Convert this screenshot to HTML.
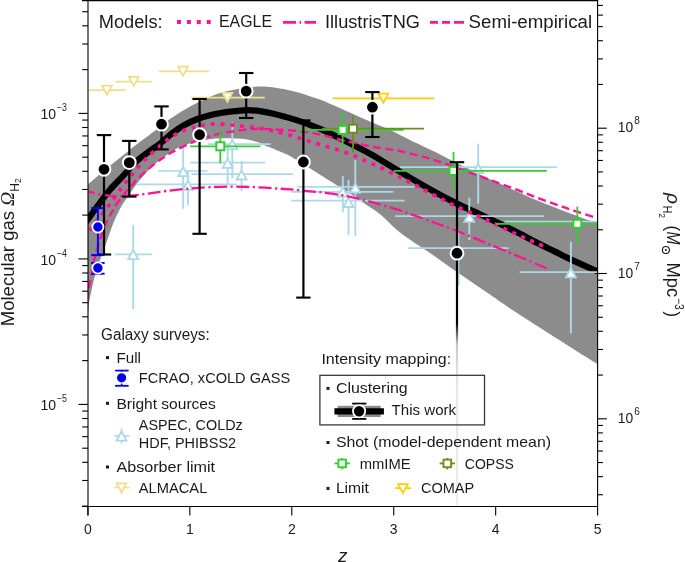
<!DOCTYPE html>
<html><head><meta charset="utf-8"><style>
html,body{margin:0;padding:0;background:#fff;}
body{width:685px;height:562px;overflow:hidden;}
svg{display:block;will-change:transform;}
text{font-family:"Liberation Sans",sans-serif;}
</style></head><body>
<svg width="685" height="562" viewBox="0 0 685 562">
<defs><linearGradient id="fade" x1="0" y1="0" x2="0" y2="1"><stop offset="0" stop-color="#000" stop-opacity="1"/><stop offset="0.275" stop-color="#000" stop-opacity="1"/><stop offset="0.36" stop-color="#000" stop-opacity="0.22"/><stop offset="0.5" stop-color="#000" stop-opacity="0.1"/><stop offset="1" stop-color="#000" stop-opacity="0.07"/></linearGradient><clipPath id="plot"><rect x="88" y="0" width="509.6" height="506.5"/></clipPath></defs>
<g clip-path="url(#plot)">
<path d="M80,190.8 C81.33,189.72 84.33,187.35 88,184.3 C91.67,181.25 97.13,176.55 102,172.5 C106.87,168.45 112.9,163.52 117.2,160 C121.5,156.48 124,154.43 127.8,151.4 C131.6,148.37 136.3,144.62 140,141.8 C143.7,138.98 147,136.7 150,134.5 C153,132.3 155.08,130.88 158,128.6 C160.92,126.32 163.97,123.4 167.5,120.8 C171.03,118.2 174.82,115.7 179.2,113 C183.58,110.3 188.93,107.2 193.8,104.6 C198.67,102 203.53,99.45 208.4,97.4 C213.27,95.35 218.13,93.7 223,92.3 C227.87,90.9 233.1,89.85 237.6,89 C242.1,88.15 245.93,87.63 250,87.2 C254.07,86.77 258.27,86.4 262,86.4 C265.73,86.4 268.6,86.72 272.4,87.2 C276.2,87.68 280.65,88.45 284.8,89.3 C288.95,90.15 293.13,91.15 297.3,92.3 C301.47,93.45 305.6,94.82 309.8,96.2 C314,97.58 316.23,98.03 322.5,100.6 C328.77,103.17 339.1,107.93 347.4,111.6 C355.7,115.27 365,119.43 372.3,122.6 C379.6,125.77 384.93,127.7 391.2,130.6 C397.47,133.5 402.63,136.47 409.9,140 C417.17,143.53 427.73,148.33 434.8,151.8 C441.87,155.27 445.82,157.53 452.3,160.8 C458.78,164.07 466.08,167.73 473.7,171.4 C481.32,175.07 490.73,179.43 498,182.8 C505.27,186.17 511.17,188.8 517.3,191.6 C523.43,194.4 527.68,196.62 534.8,199.6 C541.92,202.58 550.82,206 560,209.5 C569.18,213 583.63,218.6 589.9,220.6 C596.17,222.6 594.92,221.2 597.6,221.5 C600.28,221.8 604.6,222.25 606,222.4 L606,369.6 C604.6,368.72 611.93,373.4 597.6,364.3 C583.27,355.2 537.93,326.62 520,315 C502.07,303.38 500.27,301.6 490,294.6 C479.73,287.6 468.4,279.93 458.4,273 C448.4,266.07 439.73,259.77 430,253 C420.27,246.23 408.33,238.87 400,232.4 C391.67,225.93 386.43,219.37 380,214.2 C373.57,209.03 366.47,204.88 361.4,201.4 C356.33,197.92 354.83,196.7 349.6,193.3 C344.37,189.9 337.73,185.9 330,181 C322.27,176.1 308.95,167.53 303.2,163.9 C297.45,160.27 297.72,160.53 295.5,159.2 C293.28,157.87 292.08,157 289.9,155.9 C287.72,154.8 285.32,153.88 282.4,152.6 C279.48,151.32 275.3,149.4 272.4,148.2 C269.5,147 267.08,146.27 265,145.4 C262.92,144.53 262.82,144 259.9,143 C256.98,142 251.68,140.17 247.5,139.4 C243.32,138.63 239,138.6 234.8,138.4 C230.6,138.2 226.47,138.07 222.3,138.2 C218.13,138.33 213.95,138.7 209.8,139.2 C205.65,139.7 201.55,140.23 197.4,141.2 C193.25,142.17 189.05,143.4 184.9,145 C180.75,146.6 175.65,149.03 172.5,150.8 C169.35,152.57 169.22,153.13 166,155.6 C162.78,158.07 157.2,161.97 153.2,165.6 C149.2,169.23 145.2,173.77 142,177.4 C138.8,181.03 136.67,183.77 134,187.4 C131.33,191.03 128.17,195.93 126,199.2 C123.83,202.47 123.03,203.2 121,207 C118.97,210.8 116.25,216.05 113.8,222 C111.35,227.95 108.8,235.77 106.3,242.7 C103.8,249.63 100.4,259.05 98.8,263.6 C97.2,268.15 97.53,267.27 96.7,270 C95.87,272.73 94.7,276.45 93.8,280 C92.9,283.55 92.07,287.63 91.3,291.3 C90.53,294.97 89.75,298.05 89.2,302 C88.65,305.95 88.4,310 88,315 C87.6,320 87,329.17 86.8,332 Z" fill="#8c8c8c"/>
<path d="M80,230.5 C81.33,228.62 85.68,222.45 88,219.2 C90.32,215.95 91.6,214.15 93.9,211 C96.2,207.85 99.12,203.85 101.8,200.3 C104.48,196.75 106.32,193.92 110,189.7 C113.68,185.48 119.73,179.53 123.9,175 C128.07,170.47 130.65,166.53 135,162.5 C139.35,158.47 145.83,153.95 150,150.8 C154.17,147.65 156.25,146.57 160,143.6 C163.75,140.63 168.35,136.13 172.5,133 C176.65,129.87 180.75,127.13 184.9,124.8 C189.05,122.47 193.25,120.6 197.4,119 C201.55,117.4 205.65,116.23 209.8,115.2 C213.95,114.17 218.1,113.47 222.3,112.8 C226.5,112.13 230.8,111.65 235,111.2 C239.2,110.75 243.35,110.12 247.5,110.1 C251.65,110.08 255.75,110.55 259.9,111.1 C264.05,111.65 268.25,112.47 272.4,113.4 C276.55,114.33 280.65,115.53 284.8,116.7 C288.95,117.87 293.1,119.03 297.3,120.4 C301.5,121.77 305.8,123.32 310,124.9 C314.2,126.48 316.27,127.05 322.5,129.9 C328.73,132.75 339.1,137.82 347.4,142 C355.7,146.18 366.03,151.55 372.3,155 C378.57,158.45 378.73,158.93 385,162.7 C391.27,166.47 401.6,172.72 409.9,177.6 C418.2,182.48 426.95,187.67 434.8,192 C442.65,196.33 449.48,199.9 457,203.6 C464.52,207.3 471.93,210.45 479.9,214.2 C487.87,217.95 498.12,222.83 504.8,226.1 C511.48,229.37 514.63,231.02 520,233.8 C525.37,236.58 531.17,239.83 537,242.8 C542.83,245.77 548.67,248.5 555,251.6 C561.33,254.7 569.17,258.67 575,261.4 C580.83,264.13 586.23,266.32 590,268 C593.77,269.68 594.93,270.33 597.6,271.5 C600.27,272.67 604.6,274.42 606,275" fill="none" stroke="#000" stroke-width="6.2" stroke-linecap="butt"/>
<line x1="114.8" y1="254.3" x2="152.3" y2="254.3" stroke="#add8e6" stroke-width="1.7"/>
<line x1="133.2" y1="225.2" x2="133.2" y2="309" stroke="#add8e6" stroke-width="1.9"/>
<line x1="158.2" y1="171" x2="207.7" y2="171" stroke="#add8e6" stroke-width="1.7"/>
<line x1="183.2" y1="148" x2="183.2" y2="208.8" stroke="#add8e6" stroke-width="1.9"/>
<line x1="136" y1="184.4" x2="237" y2="184.4" stroke="#add8e6" stroke-width="1.7"/>
<line x1="187.9" y1="170.2" x2="187.9" y2="205.3" stroke="#add8e6" stroke-width="1.9"/>
<line x1="190.2" y1="162.7" x2="265" y2="162.7" stroke="#add8e6" stroke-width="1.7"/>
<line x1="227.6" y1="145.7" x2="227.6" y2="184.2" stroke="#add8e6" stroke-width="1.9"/>
<line x1="207.7" y1="144.2" x2="270.8" y2="144.2" stroke="#add8e6" stroke-width="1.7"/>
<line x1="232.3" y1="122.3" x2="232.3" y2="178.4" stroke="#add8e6" stroke-width="1.9"/>
<line x1="191.4" y1="174.2" x2="293" y2="174.2" stroke="#add8e6" stroke-width="1.7"/>
<line x1="241.6" y1="160.9" x2="241.6" y2="191.2" stroke="#add8e6" stroke-width="1.9"/>
<line x1="291.2" y1="191.9" x2="393.4" y2="191.9" stroke="#add8e6" stroke-width="1.7"/>
<line x1="342.8" y1="176.2" x2="342.8" y2="212.3" stroke="#add8e6" stroke-width="1.9"/>
<line x1="291.2" y1="200.6" x2="404.6" y2="200.6" stroke="#add8e6" stroke-width="1.7"/>
<line x1="348.5" y1="180" x2="348.5" y2="234.8" stroke="#add8e6" stroke-width="1.9"/>
<line x1="297.4" y1="186.9" x2="414.6" y2="186.9" stroke="#add8e6" stroke-width="1.7"/>
<line x1="355.3" y1="160" x2="355.3" y2="236" stroke="#add8e6" stroke-width="1.9"/>
<line x1="400" y1="167.2" x2="557" y2="167.2" stroke="#add8e6" stroke-width="1.7"/>
<line x1="478.2" y1="143.8" x2="478.2" y2="203.6" stroke="#add8e6" stroke-width="1.9"/>
<line x1="395.1" y1="216.1" x2="543.9" y2="216.1" stroke="#add8e6" stroke-width="1.7"/>
<line x1="469.3" y1="197.8" x2="469.3" y2="240.1" stroke="#add8e6" stroke-width="1.9"/>
<line x1="408.2" y1="248.1" x2="508.6" y2="248.1" stroke="#add8e6" stroke-width="1.7"/>
<line x1="458.4" y1="230" x2="458.4" y2="285.5" stroke="#add8e6" stroke-width="1.9"/>
<line x1="519.7" y1="272.2" x2="597.6" y2="272.2" stroke="#add8e6" stroke-width="1.7"/>
<line x1="570.9" y1="241.7" x2="570.9" y2="333.6" stroke="#add8e6" stroke-width="1.9"/>
<line x1="504.3" y1="221.5" x2="597.6" y2="221.5" stroke="#add8e6" stroke-width="1.7"/>
<path d="M133.2,249.9 L128.2,259.1 L138.2,259.1 Z" fill="#fff" stroke="#add8e6" stroke-width="1.8" stroke-linejoin="miter"/>
<path d="M183.2,167 L178.2,176.2 L188.2,176.2 Z" fill="#fff" stroke="#add8e6" stroke-width="1.8" stroke-linejoin="miter"/>
<path d="M187.9,180.6 L182.9,189.8 L192.9,189.8 Z" fill="#fff" stroke="#add8e6" stroke-width="1.8" stroke-linejoin="miter"/>
<path d="M227.6,158.6 L222.6,167.8 L232.6,167.8 Z" fill="#fff" stroke="#add8e6" stroke-width="1.8" stroke-linejoin="miter"/>
<path d="M232.3,139.9 L227.3,149.1 L237.3,149.1 Z" fill="#fff" stroke="#add8e6" stroke-width="1.8" stroke-linejoin="miter"/>
<path d="M241.6,170.3 L236.6,179.5 L246.6,179.5 Z" fill="#fff" stroke="#add8e6" stroke-width="1.8" stroke-linejoin="miter"/>
<path d="M342.8,187.3 L337.8,196.5 L347.8,196.5 Z" fill="#fff" stroke="#add8e6" stroke-width="1.8" stroke-linejoin="miter"/>
<path d="M348.5,197.8 L343.5,207 L353.5,207 Z" fill="#fff" stroke="#add8e6" stroke-width="1.8" stroke-linejoin="miter"/>
<path d="M355.3,183.3 L350.3,192.5 L360.3,192.5 Z" fill="#fff" stroke="#add8e6" stroke-width="1.8" stroke-linejoin="miter"/>
<path d="M478.2,163.8 L473.2,173 L483.2,173 Z" fill="#fff" stroke="#add8e6" stroke-width="1.8" stroke-linejoin="miter"/>
<path d="M469.3,212.6 L464.3,221.8 L474.3,221.8 Z" fill="#fff" stroke="#add8e6" stroke-width="1.8" stroke-linejoin="miter"/>
<path d="M570.9,268.2 L565.9,277.4 L575.9,277.4 Z" fill="#fff" stroke="#add8e6" stroke-width="1.8" stroke-linejoin="miter"/>
<path d="M84,238.5 C84.75,237.42 86.68,234.5 88.5,232 C90.32,229.5 92.8,226.28 94.9,223.5 C97,220.72 99.05,217.97 101.1,215.3 C103.15,212.63 105.2,210.1 107.2,207.5 C109.2,204.9 111.17,202.35 113.1,199.7 C115.03,197.05 116.92,194.25 118.8,191.6 C120.68,188.95 122.43,186.35 124.4,183.8 C126.37,181.25 128.53,178.82 130.6,176.3 C132.67,173.78 134.65,171.18 136.8,168.7 C138.95,166.22 141.25,163.75 143.5,161.4 C145.75,159.05 147.92,156.8 150.3,154.6 C152.68,152.4 155.37,150.37 157.8,148.2 C160.23,146.03 162.45,143.57 164.9,141.6 C167.35,139.63 169.78,138.08 172.5,136.4 C175.22,134.72 178.08,132.9 181.2,131.5 C184.32,130.1 188.08,128.95 191.2,128 C194.32,127.05 196.8,126.43 199.9,125.8 C203,125.17 206.48,124.5 209.8,124.2 C213.12,123.9 216.5,123.92 219.8,124 C223.1,124.08 226.4,124.4 229.6,124.7 C232.8,125 235.83,125.42 239,125.8 C242.17,126.18 245.32,126.6 248.6,127 C251.88,127.4 255.37,127.73 258.7,128.2 C262.03,128.67 265.48,129.18 268.6,129.8 C271.72,130.42 274.28,131.12 277.4,131.9 C280.52,132.68 284.18,133.62 287.3,134.5 C290.42,135.38 292.98,136.25 296.1,137.2 C299.22,138.15 302.85,139.23 306,140.2 C309.15,141.17 311.83,142.03 315,143 C318.17,143.97 321.88,145.07 325,146 C328.12,146.93 330.7,147.68 333.7,148.6 C336.7,149.52 339.88,150.45 343,151.5 C346.12,152.55 349.38,153.7 352.4,154.9 C355.42,156.1 358.1,157.37 361.1,158.7 C364.1,160.03 367.42,161.55 370.4,162.9 C373.38,164.25 376.15,165.43 379,166.8 C381.85,168.17 384.57,169.67 387.5,171.1 C390.43,172.53 393.72,173.95 396.6,175.4 C399.48,176.85 401.92,178.32 404.8,179.8 C407.68,181.28 410.97,182.77 413.9,184.3 C416.83,185.83 419.55,187.43 422.4,189 C425.25,190.57 428.07,192.15 431,193.7 C433.93,195.25 437.07,196.78 440,198.3 C442.93,199.82 445.68,201.38 448.6,202.8 C451.52,204.22 454.57,205.47 457.5,206.8 C460.43,208.13 463.18,209.43 466.2,210.8 C469.22,212.17 472.58,213.67 475.6,215 C478.62,216.33 481.4,217.47 484.3,218.8 C487.2,220.13 490.1,221.58 493,223 C495.9,224.42 498.78,225.87 501.7,227.3 C504.62,228.73 507.58,230.22 510.5,231.6 C513.42,232.98 516.2,234.27 519.2,235.6 C522.2,236.93 525.45,238.27 528.5,239.6 C531.55,240.93 534.67,242.33 537.5,243.6 C540.33,244.87 544.17,246.6 545.5,247.2" fill="none" stroke="#ff1493" stroke-width="3.8" stroke-dasharray="4,5.8"/>
<path d="M87,300 C87.25,298.33 87.8,293.9 88.5,290 C89.2,286.1 90.13,282.1 91.2,276.6 C92.27,271.1 93.52,262.85 94.9,257 C96.28,251.15 98.33,245.38 99.5,241.5 C100.67,237.62 100.83,236.7 101.9,233.7 C102.97,230.7 104.57,226.48 105.9,223.5 C107.23,220.52 108.62,218.22 109.9,215.8 C111.18,213.38 112.42,211.05 113.6,209 C114.78,206.95 114.93,206.37 117,203.5 C119.07,200.63 123.6,194.73 126,191.8 C128.4,188.87 129.55,188 131.4,185.9 C133.25,183.8 134.72,181.63 137.1,179.2 C139.48,176.77 142.62,174 145.7,171.3 C148.78,168.6 152.4,165.45 155.6,163 C158.8,160.55 162,158.5 164.9,156.6 C167.8,154.7 168.83,153.78 173,151.6 C177.17,149.42 184.23,145.9 189.9,143.5 C195.57,141.1 201.75,138.88 207,137.2 C212.25,135.52 216.87,134.4 221.4,133.4 C225.93,132.4 230.12,131.83 234.2,131.2 C238.28,130.57 242,130 245.9,129.6 C249.8,129.2 253.6,128.87 257.6,128.8 C261.6,128.73 265.77,129.03 269.9,129.2 C274.03,129.37 278.25,129.53 282.4,129.8 C286.55,130.07 290.65,130.4 294.8,130.8 C298.95,131.2 302.68,131.47 307.3,132.2 C311.92,132.93 316.85,133.88 322.5,135.2 C328.15,136.52 335.97,138.83 341.2,140.1 C346.43,141.37 349.65,141.9 353.9,142.8 C358.15,143.7 362.43,144.65 366.7,145.5 C370.97,146.35 375.42,147.22 379.5,147.9 C383.58,148.58 387.78,149.08 391.2,149.6 C394.62,150.12 395.87,150.1 400,151 C404.13,151.9 411.2,153.78 416,155 C420.8,156.22 424.7,157.1 428.8,158.3 C432.9,159.5 436.5,160.82 440.6,162.2 C444.7,163.58 449.97,165.37 453.4,166.6 C456.83,167.83 456.78,168 461.2,169.6 C465.62,171.2 473.67,173.95 479.9,176.2 C486.13,178.45 492.37,180.82 498.6,183.1 C504.83,185.38 511.27,187.62 517.3,189.9 C523.33,192.18 527.33,194.02 534.8,196.8 C542.27,199.58 555.58,204.3 562.1,206.6 C568.62,208.9 569.98,209.3 573.9,210.6 C577.82,211.9 582.22,213.28 585.6,214.4 C588.98,215.52 592.77,216.82 594.2,217.3" fill="none" stroke="#ff1493" stroke-width="2.4" stroke-dasharray="8,4.4"/>
<path d="M82,190.2 C83,190.37 85.67,190.63 88,191.2 C90.33,191.77 93.27,192.93 96,193.6 C98.73,194.27 100.73,194.77 104.4,195.2 C108.07,195.63 113.07,196.17 118,196.2 C122.93,196.23 128.67,195.87 134,195.4 C139.33,194.93 144.67,194.13 150,193.4 C155.33,192.67 159.88,191.77 166,191 C172.12,190.23 179.37,189.43 186.7,188.8 C194.03,188.17 202.22,187.57 210,187.2 C217.78,186.83 225.6,186.58 233.4,186.6 C241.2,186.62 249,186.95 256.8,187.3 C264.6,187.65 273,188.2 280.2,188.7 C287.4,189.2 292.92,189.65 300,190.3 C307.08,190.95 315.85,191.82 322.7,192.6 C329.55,193.38 336.08,194.2 341.1,195 C346.12,195.8 347.65,196.2 352.8,197.4 C357.95,198.6 365.23,200.38 372,202.2 C378.77,204.02 388.25,206.78 393.4,208.3 C398.55,209.82 396.93,209.23 402.9,211.3 C408.87,213.37 419.95,217.33 429.2,220.7 C438.45,224.07 448.67,227.68 458.4,231.5 C468.13,235.32 477.87,239.58 487.6,243.6 C497.33,247.62 506.98,251.5 516.8,255.6 C526.62,259.7 541.55,266.1 546.5,268.2" fill="none" stroke="#ff1493" stroke-width="2.3" stroke-dasharray="13,3.5,2.2,3.5"/>
</g>
<line x1="88.5" y1="90.2" x2="125.2" y2="90.2" stroke="#eee08a" stroke-width="1.8"/>
<path d="M107,94.7 L102.1,85.7 L111.9,85.7 Z" fill="#fff" stroke="#eee08a" stroke-width="1.8" stroke-linejoin="miter"/>
<line x1="115.4" y1="81.6" x2="151.9" y2="81.6" stroke="#eee08a" stroke-width="1.8"/>
<path d="M133.7,85.9 L128.8,76.9 L138.6,76.9 Z" fill="#fff" stroke="#eee08a" stroke-width="1.8" stroke-linejoin="miter"/>
<line x1="159" y1="71.4" x2="209" y2="71.4" stroke="#eee08a" stroke-width="1.8"/>
<path d="M183,75.7 L178.1,66.7 L187.9,66.7 Z" fill="#fff" stroke="#eee08a" stroke-width="1.8" stroke-linejoin="miter"/>
<line x1="190.7" y1="97.6" x2="264.8" y2="97.6" stroke="#eee08a" stroke-width="1.8"/>
<path d="M227.4,101.8 L222.5,92.8 L232.3,92.8 Z" fill="#fff" stroke="#eee08a" stroke-width="1.8" stroke-linejoin="miter"/>
<line x1="332.4" y1="98.3" x2="434.3" y2="98.3" stroke="#ffd000" stroke-width="1.8"/>
<path d="M383.4,102.7 L378.5,93.7 L388.3,93.7 Z" fill="#fff" stroke="#ffd000" stroke-width="1.8" stroke-linejoin="miter"/>
<line x1="190.2" y1="146.3" x2="260.5" y2="146.3" stroke="#33cc33" stroke-width="1.8"/>
<line x1="220.3" y1="130.5" x2="220.3" y2="163.2" stroke="#33cc33" stroke-width="1.8"/>
<line x1="297" y1="129.9" x2="403.7" y2="129.9" stroke="#33cc33" stroke-width="1.8"/>
<line x1="342.6" y1="112" x2="342.6" y2="148.5" stroke="#33cc33" stroke-width="1.8"/>
<line x1="393.7" y1="170.9" x2="546.8" y2="170.9" stroke="#33cc33" stroke-width="1.8"/>
<line x1="453.5" y1="151.8" x2="453.5" y2="189.2" stroke="#33cc33" stroke-width="1.8"/>
<line x1="496.1" y1="223.8" x2="597.6" y2="223.8" stroke="#33cc33" stroke-width="1.8"/>
<line x1="577.3" y1="206.6" x2="577.3" y2="243.5" stroke="#33cc33" stroke-width="1.8"/>
<line x1="322" y1="128.7" x2="424.1" y2="128.7" stroke="#6b8e23" stroke-width="1.8"/>
<line x1="353" y1="115.6" x2="353" y2="153" stroke="#6b8e23" stroke-width="1.8"/>
<rect x="216.3" y="142.3" width="8" height="8" fill="#fff" stroke="#33cc33" stroke-width="2"/>
<rect x="338.6" y="125.9" width="8" height="8" fill="#fff" stroke="#33cc33" stroke-width="2"/>
<rect x="449.5" y="166.9" width="8" height="8" fill="#fff" stroke="#33cc33" stroke-width="2"/>
<rect x="573.3" y="219.8" width="8" height="8" fill="#fff" stroke="#33cc33" stroke-width="2"/>
<rect x="349" y="124.7" width="8" height="8" fill="#fff" stroke="#6b8e23" stroke-width="2"/>
<line x1="104" y1="135.1" x2="104" y2="169.3" stroke="#000" stroke-width="2.2"/>
<line x1="96.8" y1="135.1" x2="111.2" y2="135.1" stroke="#000" stroke-width="2.1"/>
<line x1="104" y1="169.3" x2="104" y2="254.5" stroke="#000" stroke-width="2.2"/>
<line x1="96.8" y1="254.5" x2="111.2" y2="254.5" stroke="#000" stroke-width="2.1"/>
<line x1="129.3" y1="140.9" x2="129.3" y2="162.6" stroke="#000" stroke-width="2.2"/>
<line x1="122.1" y1="140.9" x2="136.5" y2="140.9" stroke="#000" stroke-width="2.1"/>
<line x1="129.3" y1="162.6" x2="129.3" y2="196.6" stroke="#000" stroke-width="2.2"/>
<line x1="122.1" y1="196.6" x2="136.5" y2="196.6" stroke="#000" stroke-width="2.1"/>
<line x1="161.5" y1="106.4" x2="161.5" y2="124.2" stroke="#000" stroke-width="2.2"/>
<line x1="154.3" y1="106.4" x2="168.7" y2="106.4" stroke="#000" stroke-width="2.1"/>
<line x1="161.5" y1="124.2" x2="161.5" y2="149.4" stroke="#000" stroke-width="2.2"/>
<line x1="154.3" y1="149.4" x2="168.7" y2="149.4" stroke="#000" stroke-width="2.1"/>
<line x1="199.6" y1="99" x2="199.6" y2="134.7" stroke="#000" stroke-width="2.2"/>
<line x1="192.4" y1="99" x2="206.8" y2="99" stroke="#000" stroke-width="2.1"/>
<line x1="199.6" y1="134.7" x2="199.6" y2="233.8" stroke="#000" stroke-width="2.2"/>
<line x1="192.4" y1="233.8" x2="206.8" y2="233.8" stroke="#000" stroke-width="2.1"/>
<line x1="246.2" y1="73" x2="246.2" y2="91.1" stroke="#000" stroke-width="2.2"/>
<line x1="239" y1="73" x2="253.4" y2="73" stroke="#000" stroke-width="2.1"/>
<line x1="246.2" y1="91.1" x2="246.2" y2="118" stroke="#000" stroke-width="2.2"/>
<line x1="239" y1="118" x2="253.4" y2="118" stroke="#000" stroke-width="2.1"/>
<line x1="303.4" y1="120.4" x2="303.4" y2="162" stroke="#000" stroke-width="2.2"/>
<line x1="296.2" y1="120.4" x2="310.6" y2="120.4" stroke="#000" stroke-width="2.1"/>
<line x1="303.4" y1="162" x2="303.4" y2="297.6" stroke="#000" stroke-width="2.2"/>
<line x1="296.2" y1="297.6" x2="310.6" y2="297.6" stroke="#000" stroke-width="2.1"/>
<line x1="372.4" y1="92.1" x2="372.4" y2="107.2" stroke="#000" stroke-width="2.2"/>
<line x1="365.2" y1="92.1" x2="379.6" y2="92.1" stroke="#000" stroke-width="2.1"/>
<line x1="372.4" y1="107.2" x2="372.4" y2="137" stroke="#000" stroke-width="2.2"/>
<line x1="365.2" y1="137" x2="379.6" y2="137" stroke="#000" stroke-width="2.1"/>
<line x1="457" y1="162.2" x2="457" y2="253.2" stroke="#000" stroke-width="2.2"/>
<line x1="449.8" y1="162.2" x2="464.2" y2="162.2" stroke="#000" stroke-width="2.1"/>
<rect x="455.9" y="253.2" width="2.2" height="252.8" fill="url(#fade)"/>
<circle cx="104" cy="169.3" r="6.4" fill="#000" stroke="#fff" stroke-width="2"/>
<circle cx="129.3" cy="162.6" r="6.4" fill="#000" stroke="#fff" stroke-width="2"/>
<circle cx="161.5" cy="124.2" r="6.4" fill="#000" stroke="#fff" stroke-width="2"/>
<circle cx="199.6" cy="134.7" r="6.4" fill="#000" stroke="#fff" stroke-width="2"/>
<circle cx="246.2" cy="91.1" r="6.4" fill="#000" stroke="#fff" stroke-width="2"/>
<circle cx="303.4" cy="162" r="6.4" fill="#000" stroke="#fff" stroke-width="2"/>
<circle cx="372.4" cy="107.2" r="6.4" fill="#000" stroke="#fff" stroke-width="2"/>
<circle cx="457" cy="253.2" r="6.4" fill="#000" stroke="#fff" stroke-width="2"/>
<line x1="97.9" y1="208.1" x2="97.9" y2="255.1" stroke="#0000ee" stroke-width="1.9"/>
<line x1="91.2" y1="208.1" x2="104.6" y2="208.1" stroke="#0000ee" stroke-width="2"/>
<line x1="91.2" y1="255.1" x2="104.6" y2="255.1" stroke="#0000ee" stroke-width="2"/>
<line x1="97.9" y1="263" x2="97.9" y2="273.7" stroke="#0000ee" stroke-width="1.9"/>
<line x1="91.2" y1="263" x2="104.6" y2="263" stroke="#0000ee" stroke-width="2"/>
<line x1="91.2" y1="273.7" x2="104.6" y2="273.7" stroke="#0000ee" stroke-width="2"/>
<circle cx="97.9" cy="227" r="5.6" fill="#0000ee" stroke="#fff" stroke-width="1.8"/>
<circle cx="97.9" cy="268" r="5.6" fill="#0000ee" stroke="#fff" stroke-width="1.8"/>
<g stroke="#000" stroke-width="1" fill="none">
<line x1="88" y1="0" x2="88" y2="515.6" stroke="#000" stroke-width="1.1"/>
<line x1="82" y1="0.5" x2="597.6" y2="0.5" stroke="#000" stroke-width="1.3"/>
<line x1="597.6" y1="0" x2="597.6" y2="507" stroke="#000" stroke-width="1.1"/>
<line x1="82" y1="506.5" x2="597.6" y2="506.5" stroke="#000" stroke-width="1.2"/>
<line x1="87.9" y1="506.5" x2="87.9" y2="515.6" stroke="#000" stroke-width="1.1"/>
<line x1="189.84" y1="506.5" x2="189.84" y2="515.6" stroke="#000" stroke-width="1.1"/>
<line x1="291.78" y1="506.5" x2="291.78" y2="515.6" stroke="#000" stroke-width="1.1"/>
<line x1="393.72" y1="506.5" x2="393.72" y2="515.6" stroke="#000" stroke-width="1.1"/>
<line x1="495.66" y1="506.5" x2="495.66" y2="515.6" stroke="#000" stroke-width="1.1"/>
<line x1="597.6" y1="506.5" x2="597.6" y2="515.6" stroke="#000" stroke-width="1.1"/>
<line x1="78.5" y1="113.4" x2="88" y2="113.4" stroke="#000" stroke-width="1.1"/>
<line x1="82.2" y1="69.6" x2="88" y2="69.6" stroke="#000" stroke-width="1.1"/>
<line x1="82.2" y1="43.98" x2="88" y2="43.98" stroke="#000" stroke-width="1.1"/>
<line x1="82.2" y1="25.8" x2="88" y2="25.8" stroke="#000" stroke-width="1.1"/>
<line x1="82.2" y1="11.7" x2="88" y2="11.7" stroke="#000" stroke-width="1.1"/>
<line x1="82.2" y1="0.18" x2="88" y2="0.18" stroke="#000" stroke-width="1.1"/>
<line x1="78.5" y1="258.9" x2="88" y2="258.9" stroke="#000" stroke-width="1.1"/>
<line x1="82.2" y1="215.1" x2="88" y2="215.1" stroke="#000" stroke-width="1.1"/>
<line x1="82.2" y1="189.48" x2="88" y2="189.48" stroke="#000" stroke-width="1.1"/>
<line x1="82.2" y1="171.3" x2="88" y2="171.3" stroke="#000" stroke-width="1.1"/>
<line x1="82.2" y1="157.2" x2="88" y2="157.2" stroke="#000" stroke-width="1.1"/>
<line x1="82.2" y1="145.68" x2="88" y2="145.68" stroke="#000" stroke-width="1.1"/>
<line x1="82.2" y1="135.94" x2="88" y2="135.94" stroke="#000" stroke-width="1.1"/>
<line x1="82.2" y1="127.5" x2="88" y2="127.5" stroke="#000" stroke-width="1.1"/>
<line x1="82.2" y1="120.06" x2="88" y2="120.06" stroke="#000" stroke-width="1.1"/>
<line x1="78.5" y1="404.4" x2="88" y2="404.4" stroke="#000" stroke-width="1.1"/>
<line x1="82.2" y1="360.6" x2="88" y2="360.6" stroke="#000" stroke-width="1.1"/>
<line x1="82.2" y1="334.98" x2="88" y2="334.98" stroke="#000" stroke-width="1.1"/>
<line x1="82.2" y1="316.8" x2="88" y2="316.8" stroke="#000" stroke-width="1.1"/>
<line x1="82.2" y1="302.7" x2="88" y2="302.7" stroke="#000" stroke-width="1.1"/>
<line x1="82.2" y1="291.18" x2="88" y2="291.18" stroke="#000" stroke-width="1.1"/>
<line x1="82.2" y1="281.44" x2="88" y2="281.44" stroke="#000" stroke-width="1.1"/>
<line x1="82.2" y1="273" x2="88" y2="273" stroke="#000" stroke-width="1.1"/>
<line x1="82.2" y1="265.56" x2="88" y2="265.56" stroke="#000" stroke-width="1.1"/>
<line x1="82.2" y1="506.1" x2="88" y2="506.1" stroke="#000" stroke-width="1.1"/>
<line x1="82.2" y1="480.48" x2="88" y2="480.48" stroke="#000" stroke-width="1.1"/>
<line x1="82.2" y1="462.3" x2="88" y2="462.3" stroke="#000" stroke-width="1.1"/>
<line x1="82.2" y1="448.2" x2="88" y2="448.2" stroke="#000" stroke-width="1.1"/>
<line x1="82.2" y1="436.68" x2="88" y2="436.68" stroke="#000" stroke-width="1.1"/>
<line x1="82.2" y1="426.94" x2="88" y2="426.94" stroke="#000" stroke-width="1.1"/>
<line x1="82.2" y1="418.5" x2="88" y2="418.5" stroke="#000" stroke-width="1.1"/>
<line x1="82.2" y1="411.06" x2="88" y2="411.06" stroke="#000" stroke-width="1.1"/>
<line x1="597.6" y1="128.2" x2="606.8" y2="128.2" stroke="#000" stroke-width="1.1"/>
<line x1="597.6" y1="84.46" x2="602.9" y2="84.46" stroke="#000" stroke-width="1.1"/>
<line x1="597.6" y1="58.87" x2="602.9" y2="58.87" stroke="#000" stroke-width="1.1"/>
<line x1="597.6" y1="40.72" x2="602.9" y2="40.72" stroke="#000" stroke-width="1.1"/>
<line x1="597.6" y1="26.64" x2="602.9" y2="26.64" stroke="#000" stroke-width="1.1"/>
<line x1="597.6" y1="15.13" x2="602.9" y2="15.13" stroke="#000" stroke-width="1.1"/>
<line x1="597.6" y1="5.41" x2="602.9" y2="5.41" stroke="#000" stroke-width="1.1"/>
<line x1="597.6" y1="273.5" x2="606.8" y2="273.5" stroke="#000" stroke-width="1.1"/>
<line x1="597.6" y1="229.76" x2="602.9" y2="229.76" stroke="#000" stroke-width="1.1"/>
<line x1="597.6" y1="204.17" x2="602.9" y2="204.17" stroke="#000" stroke-width="1.1"/>
<line x1="597.6" y1="186.02" x2="602.9" y2="186.02" stroke="#000" stroke-width="1.1"/>
<line x1="597.6" y1="171.94" x2="602.9" y2="171.94" stroke="#000" stroke-width="1.1"/>
<line x1="597.6" y1="160.43" x2="602.9" y2="160.43" stroke="#000" stroke-width="1.1"/>
<line x1="597.6" y1="150.71" x2="602.9" y2="150.71" stroke="#000" stroke-width="1.1"/>
<line x1="597.6" y1="142.28" x2="602.9" y2="142.28" stroke="#000" stroke-width="1.1"/>
<line x1="597.6" y1="134.85" x2="602.9" y2="134.85" stroke="#000" stroke-width="1.1"/>
<line x1="597.6" y1="418.8" x2="606.8" y2="418.8" stroke="#000" stroke-width="1.1"/>
<line x1="597.6" y1="375.06" x2="602.9" y2="375.06" stroke="#000" stroke-width="1.1"/>
<line x1="597.6" y1="349.47" x2="602.9" y2="349.47" stroke="#000" stroke-width="1.1"/>
<line x1="597.6" y1="331.32" x2="602.9" y2="331.32" stroke="#000" stroke-width="1.1"/>
<line x1="597.6" y1="317.24" x2="602.9" y2="317.24" stroke="#000" stroke-width="1.1"/>
<line x1="597.6" y1="305.73" x2="602.9" y2="305.73" stroke="#000" stroke-width="1.1"/>
<line x1="597.6" y1="296.01" x2="602.9" y2="296.01" stroke="#000" stroke-width="1.1"/>
<line x1="597.6" y1="287.58" x2="602.9" y2="287.58" stroke="#000" stroke-width="1.1"/>
<line x1="597.6" y1="280.15" x2="602.9" y2="280.15" stroke="#000" stroke-width="1.1"/>
<line x1="597.6" y1="494.77" x2="602.9" y2="494.77" stroke="#000" stroke-width="1.1"/>
<line x1="597.6" y1="476.62" x2="602.9" y2="476.62" stroke="#000" stroke-width="1.1"/>
<line x1="597.6" y1="462.54" x2="602.9" y2="462.54" stroke="#000" stroke-width="1.1"/>
<line x1="597.6" y1="451.03" x2="602.9" y2="451.03" stroke="#000" stroke-width="1.1"/>
<line x1="597.6" y1="441.31" x2="602.9" y2="441.31" stroke="#000" stroke-width="1.1"/>
<line x1="597.6" y1="432.88" x2="602.9" y2="432.88" stroke="#000" stroke-width="1.1"/>
<line x1="597.6" y1="425.45" x2="602.9" y2="425.45" stroke="#000" stroke-width="1.1"/>
</g>
<g font-family="Liberation Sans, sans-serif" fill="#1a1a1a">
<text x="87.9" y="533.8" font-size="14" text-anchor="middle">0</text>
<text x="189.84" y="533.8" font-size="14" text-anchor="middle">1</text>
<text x="291.78" y="533.8" font-size="14" text-anchor="middle">2</text>
<text x="393.72" y="533.8" font-size="14" text-anchor="middle">3</text>
<text x="495.66" y="533.8" font-size="14" text-anchor="middle">4</text>
<text x="597.6" y="533.8" font-size="14" text-anchor="middle">5</text>
<text x="40.5" y="119.3" font-size="14" textLength="15.6" lengthAdjust="spacingAndGlyphs">10</text>
<text x="57" y="111.2" font-size="10" textLength="10" lengthAdjust="spacingAndGlyphs">&#8722;3</text>
<text x="40.5" y="264.8" font-size="14" textLength="15.6" lengthAdjust="spacingAndGlyphs">10</text>
<text x="57" y="256.7" font-size="10" textLength="10" lengthAdjust="spacingAndGlyphs">&#8722;4</text>
<text x="40.5" y="410.3" font-size="14" textLength="15.6" lengthAdjust="spacingAndGlyphs">10</text>
<text x="57" y="402.2" font-size="10" textLength="10" lengthAdjust="spacingAndGlyphs">&#8722;5</text>
<text x="617.8" y="132.4" font-size="14" textLength="15.4" lengthAdjust="spacingAndGlyphs">10</text>
<text x="634.2" y="124.4" font-size="10">8</text>
<text x="617.8" y="277.7" font-size="14" textLength="15.4" lengthAdjust="spacingAndGlyphs">10</text>
<text x="634.2" y="269.7" font-size="10">7</text>
<text x="617.8" y="423" font-size="14" textLength="15.4" lengthAdjust="spacingAndGlyphs">10</text>
<text x="634.2" y="415" font-size="10">6</text>
<text transform="translate(14.2,326.2) rotate(-90)" font-size="18.5">Molecular gas <tspan font-style="italic" font-family="Liberation Serif, serif" font-size="19.5">&#937;</tspan><tspan font-size="12" dy="5">H</tspan><tspan font-size="8.5" dy="2">2</tspan></text>
<g transform="translate(667.4,193) rotate(90)" font-size="17.5">
<text x="0" y="0" font-style="italic" textLength="11" lengthAdjust="spacingAndGlyphs">&#961;</text>
<text x="12.6" y="4.6" font-size="12" textLength="8" lengthAdjust="spacingAndGlyphs">H</text>
<text x="20.3" y="8.8" font-size="8.5">2</text>
<text x="32.6" y="0" textLength="5.6" lengthAdjust="spacingAndGlyphs">(</text>
<text x="38.4" y="0" font-style="italic" textLength="13" lengthAdjust="spacingAndGlyphs">M</text>
<text x="69.5" y="0" textLength="34.6" lengthAdjust="spacingAndGlyphs">Mpc</text>
<text x="105" y="-7.5" font-size="12" textLength="11.8" lengthAdjust="spacingAndGlyphs">&#8722;3</text>
<text x="118.6" y="0" textLength="5.6" lengthAdjust="spacingAndGlyphs">)</text>
</g>
<circle cx="665.9" cy="250" r="3.5" fill="none" stroke="#1a1a1a" stroke-width="1.15"/><circle cx="665.9" cy="250" r="1" fill="#1a1a1a"/>
<text x="338" y="562" font-size="19" font-style="italic">z</text>
<text x="98.8" y="28.1" font-size="18" textLength="63.8" lengthAdjust="spacingAndGlyphs">Models:</text>
<text x="219" y="27" font-size="17" textLength="53" lengthAdjust="spacingAndGlyphs">EAGLE</text>
<text x="325" y="27.5" font-size="17.5" textLength="95" lengthAdjust="spacingAndGlyphs">IllustrisTNG</text>
<text x="468.6" y="27.5" font-size="17.5" textLength="123.5" lengthAdjust="spacingAndGlyphs">Semi-empirical</text>
</g>
<line x1="177" y1="22.1" x2="212" y2="22.1" stroke="#ff1493" stroke-width="4" stroke-dasharray="4,5.9"/>
<line x1="283" y1="22.4" x2="316" y2="22.4" stroke="#ff1493" stroke-width="2.6" stroke-dasharray="13,3.5,1.6,3.5"/>
<line x1="430" y1="22.4" x2="464" y2="22.4" stroke="#ff1493" stroke-width="2.6" stroke-dasharray="8,4,8,4,10"/>
<g font-family="Liberation Sans, sans-serif" fill="#1a1a1a">
<text x="101" y="340.1" font-size="15.6" textLength="108.7" lengthAdjust="spacingAndGlyphs">Galaxy surveys:</text>
<text x="116.4" y="362.8" font-size="15" textLength="24.5" lengthAdjust="spacingAndGlyphs">Full</text>
<text x="138.8" y="383.2" font-size="15" textLength="151.3" lengthAdjust="spacingAndGlyphs">FCRAO, xCOLD GASS</text>
<text x="116.4" y="408.7" font-size="15" textLength="99.4" lengthAdjust="spacingAndGlyphs">Bright sources</text>
<text x="138.8" y="430.1" font-size="15" textLength="104" lengthAdjust="spacingAndGlyphs">ASPEC, COLDz</text>
<text x="138.8" y="448" font-size="15" textLength="97.3" lengthAdjust="spacingAndGlyphs">HDF, PHIBSS2</text>
<text x="116.4" y="472.3" font-size="15" textLength="98.7" lengthAdjust="spacingAndGlyphs">Absorber limit</text>
<text x="138.8" y="493.3" font-size="15" textLength="68.5" lengthAdjust="spacingAndGlyphs">ALMACAL</text>
</g>
<rect x="106" y="356.1" width="3" height="3" fill="#1a1a1a"/>
<rect x="106" y="401.8" width="3" height="3" fill="#1a1a1a"/>
<rect x="106" y="465.5" width="3" height="3" fill="#1a1a1a"/>
<line x1="121.6" y1="370.5" x2="121.6" y2="386" stroke="#0000ee" stroke-width="1.6"/>
<line x1="115.1" y1="370.6" x2="128.6" y2="370.6" stroke="#0000ee" stroke-width="1.8"/>
<line x1="115.1" y1="385.8" x2="128.6" y2="385.8" stroke="#0000ee" stroke-width="1.8"/>
<circle cx="121.6" cy="377.8" r="5.3" fill="#0000ee" stroke="#fff" stroke-width="1.4"/>
<line x1="114.3" y1="436.1" x2="129.6" y2="436.1" stroke="#add8e6" stroke-width="1.6"/>
<line x1="121.5" y1="428.4" x2="121.5" y2="443.6" stroke="#add8e6" stroke-width="1.6"/>
<path d="M121.5,431.5 L116.5,440.7 L126.5,440.7 Z" fill="#fff" stroke="#add8e6" stroke-width="1.8" stroke-linejoin="miter"/>
<line x1="114.3" y1="487.5" x2="129.6" y2="487.5" stroke="#eee08a" stroke-width="1.6"/>
<path d="M121.5,492.3 L116.6,483.3 L126.4,483.3 Z" fill="#fff" stroke="#eee08a" stroke-width="1.8" stroke-linejoin="miter"/>
<g font-family="Liberation Sans, sans-serif" fill="#1a1a1a">
<text x="321.4" y="363.9" font-size="15" textLength="129.8" lengthAdjust="spacingAndGlyphs">Intensity mapping:</text>
<text x="335.9" y="393.4" font-size="15" textLength="71.8" lengthAdjust="spacingAndGlyphs">Clustering</text>
<text x="391.6" y="414.6" font-size="15" textLength="64.5" lengthAdjust="spacingAndGlyphs">This work</text>
<text x="335.9" y="447" font-size="15" textLength="215.1" lengthAdjust="spacingAndGlyphs">Shot (model-dependent mean)</text>
<text x="359.7" y="468.6" font-size="15" textLength="50.9" lengthAdjust="spacingAndGlyphs">mmIME</text>
<text x="464.8" y="468.6" font-size="15" textLength="49" lengthAdjust="spacingAndGlyphs">COPSS</text>
<text x="335.9" y="493.4" font-size="15" textLength="33" lengthAdjust="spacingAndGlyphs">Limit</text>
<text x="420.9" y="493.4" font-size="15" textLength="53.3" lengthAdjust="spacingAndGlyphs">COMAP</text>
</g>
<rect x="319.9" y="375.3" width="164.6" height="49.6" fill="none" stroke="#3a3a3a" stroke-width="1.3"/>
<rect x="326.5" y="386.9" width="3" height="3" fill="#1a1a1a"/>
<rect x="326.5" y="441" width="3" height="3" fill="#1a1a1a"/>
<rect x="326.5" y="486.9" width="3" height="3" fill="#1a1a1a"/>
<rect x="337.6" y="405.8" width="43.1" height="11.2" fill="#8c8c8c"/>
<line x1="334.4" y1="411.3" x2="383.9" y2="411.3" stroke="#000" stroke-width="6.3"/>
<line x1="359.1" y1="403.6" x2="359.1" y2="418.9" stroke="#000" stroke-width="1.6"/>
<line x1="352.2" y1="403.6" x2="366.4" y2="403.6" stroke="#000" stroke-width="1.8"/>
<line x1="352.2" y1="418.9" x2="366.4" y2="418.9" stroke="#000" stroke-width="1.8"/>
<circle cx="359.1" cy="411.3" r="6.1" fill="#000" stroke="#fff" stroke-width="1.8"/>
<line x1="334.5" y1="463.4" x2="349.9" y2="463.4" stroke="#33cc33" stroke-width="1.8"/>
<line x1="342.2" y1="457.9" x2="342.2" y2="469.4" stroke="#33cc33" stroke-width="1.8"/>
<rect x="338.4" y="459.6" width="7.6" height="7.6" fill="#fff" stroke="#33cc33" stroke-width="1.9"/>
<line x1="439.6" y1="463.4" x2="455" y2="463.4" stroke="#6b8e23" stroke-width="1.8"/>
<line x1="447.3" y1="457.9" x2="447.3" y2="469.4" stroke="#6b8e23" stroke-width="1.8"/>
<rect x="443.5" y="459.6" width="7.6" height="7.6" fill="#fff" stroke="#6b8e23" stroke-width="1.9"/>
<line x1="395" y1="488.1" x2="411" y2="488.1" stroke="#ffd000" stroke-width="1.8"/>
<path d="M402.9,493.1 L398,484.1 L407.8,484.1 Z" fill="#fff" stroke="#ffd000" stroke-width="1.8" stroke-linejoin="miter"/>
</svg>
</body></html>
